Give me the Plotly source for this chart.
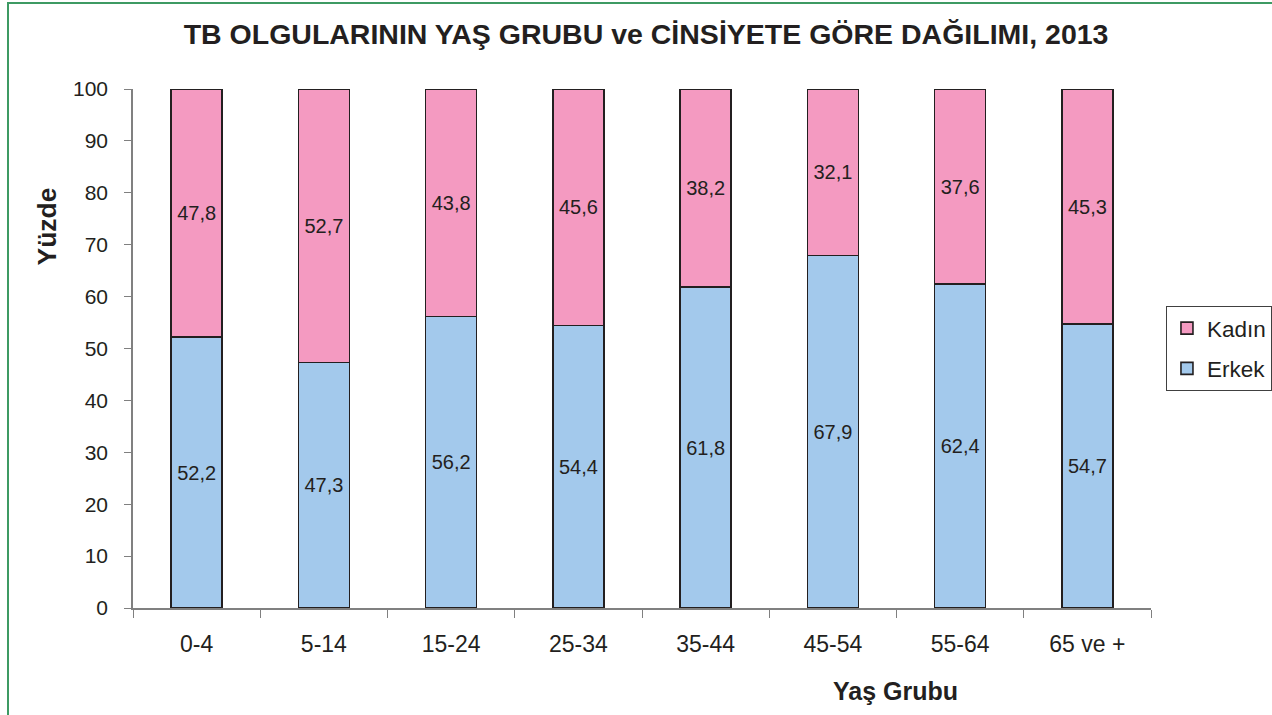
import plotly.graph_objects as go

# age groups and percentages by sex
age_groups = ["0-4", "5-14", "15-24", "25-34", "35-44", "45-54", "55-64", "65 ve +"]
erkek = [52.2, 47.3, 56.2, 54.4, 61.8, 67.9, 62.4, 54.7]
kadin = [47.8, 52.7, 43.8, 45.6, 38.2, 32.1, 37.6, 45.3]
y_ticks = [0, 10, 20, 30, 40, 50, 60, 70, 80, 90, 100]

FONT = "Liberation Sans, Arial, sans-serif"
TXT = "#231f20"


def tr_label(v):
    return f"{v:.1f}".replace(".", ",")


fig = go.Figure()
fig.add_trace(go.Bar(
    x=age_groups, y=erkek, name="Erkek", legendgroup="erkek", legendrank=2,
    marker=dict(color="#a3c9ec", line=dict(color="#231f20", width=1.6)),
    text=[tr_label(v) for v in erkek],
    textposition="inside", insidetextanchor="middle",
    textfont=dict(size=20, color=TXT, family=FONT),
    constraintext="none", width=0.4,
))
fig.add_trace(go.Bar(
    x=age_groups, y=kadin, name="Kadın", legendgroup="kadin", legendrank=1,
    marker=dict(color="#f49ac1", line=dict(color="#231f20", width=1.6)),
    text=[tr_label(v) for v in kadin],
    textposition="inside", insidetextanchor="middle",
    textfont=dict(size=20, color=TXT, family=FONT),
    constraintext="none", width=0.4,
))

fig.update_layout(
    barmode="stack",
    width=1272, height=715,
    margin=dict(l=133, r=121, t=89, b=107, autoexpand=False),
    paper_bgcolor="white", plot_bgcolor="white",
    font=dict(family=FONT, color=TXT, size=21),
    title=dict(
        text="<b>TB OLGULARININ YAŞ GRUBU ve CİNSİYETE GÖRE DAĞILIMI, 2013</b>",
        x=0.504, xref="paper", xanchor="center",
        y=1 - 34 / 715, yref="container", yanchor="middle",
        font=dict(size=28.5, color=TXT, family=FONT),
    ),
    legend=dict(
        traceorder="grouped",
        x=1.0147, xanchor="left", y=0.5, yanchor="middle",
        bordercolor="#404040", borderwidth=1,
        font=dict(size=22.5, color=TXT, family=FONT),
        itemwidth=30, tracegroupgap=8,
    ),
    showlegend=True,
)

fig.update_xaxes(
    type="category", range=[-0.5, 7.5],
    showline=True, linecolor="#808080", linewidth=1.5,
    ticks="outside", tickson="boundaries", ticklen=8, tickcolor="#808080",
    showgrid=False, ticklabelstandoff=15,
    tickfont=dict(size=23, color=TXT, family=FONT),
)
fig.update_yaxes(
    range=[0, 100], tickvals=y_ticks,
    showline=True, linecolor="#808080", linewidth=1.5,
    ticks="outside", ticklen=7, tickcolor="#808080",
    showgrid=False, zeroline=False, ticklabelstandoff=12,
    tickfont=dict(size=21, color=TXT, family=FONT),
)

# axis titles placed as in the original
fig.add_annotation(
    text="<b>Yaş Grubu</b>", xref="paper", yref="paper",
    x=0.749, y=-0.159, xanchor="center", yanchor="middle",
    showarrow=False, font=dict(size=25, color=TXT, family=FONT),
)
fig.add_annotation(
    text="<b>Yüzde</b>", xref="paper", yref="paper",
    x=-0.084, y=0.736, xanchor="center", yanchor="middle", textangle=-90,
    showarrow=False, font=dict(size=26.5, color=TXT, family=FONT),
)

# green frame around the chart
fig.add_shape(
    type="rect", xref="paper", yref="paper",
    x0=(8 - 133) / 1018, x1=(1290 - 133) / 1018,
    y0=(608 - 730) / 519, y1=(608 - 3) / 519,
    line=dict(color="#3d9a63", width=2), layer="below",
)

fig.write_html(
    "out.html",
    config={"displayModeBar": False},
    post_script="document.body.style.margin='0';document.body.style.overflow='hidden';",
)
